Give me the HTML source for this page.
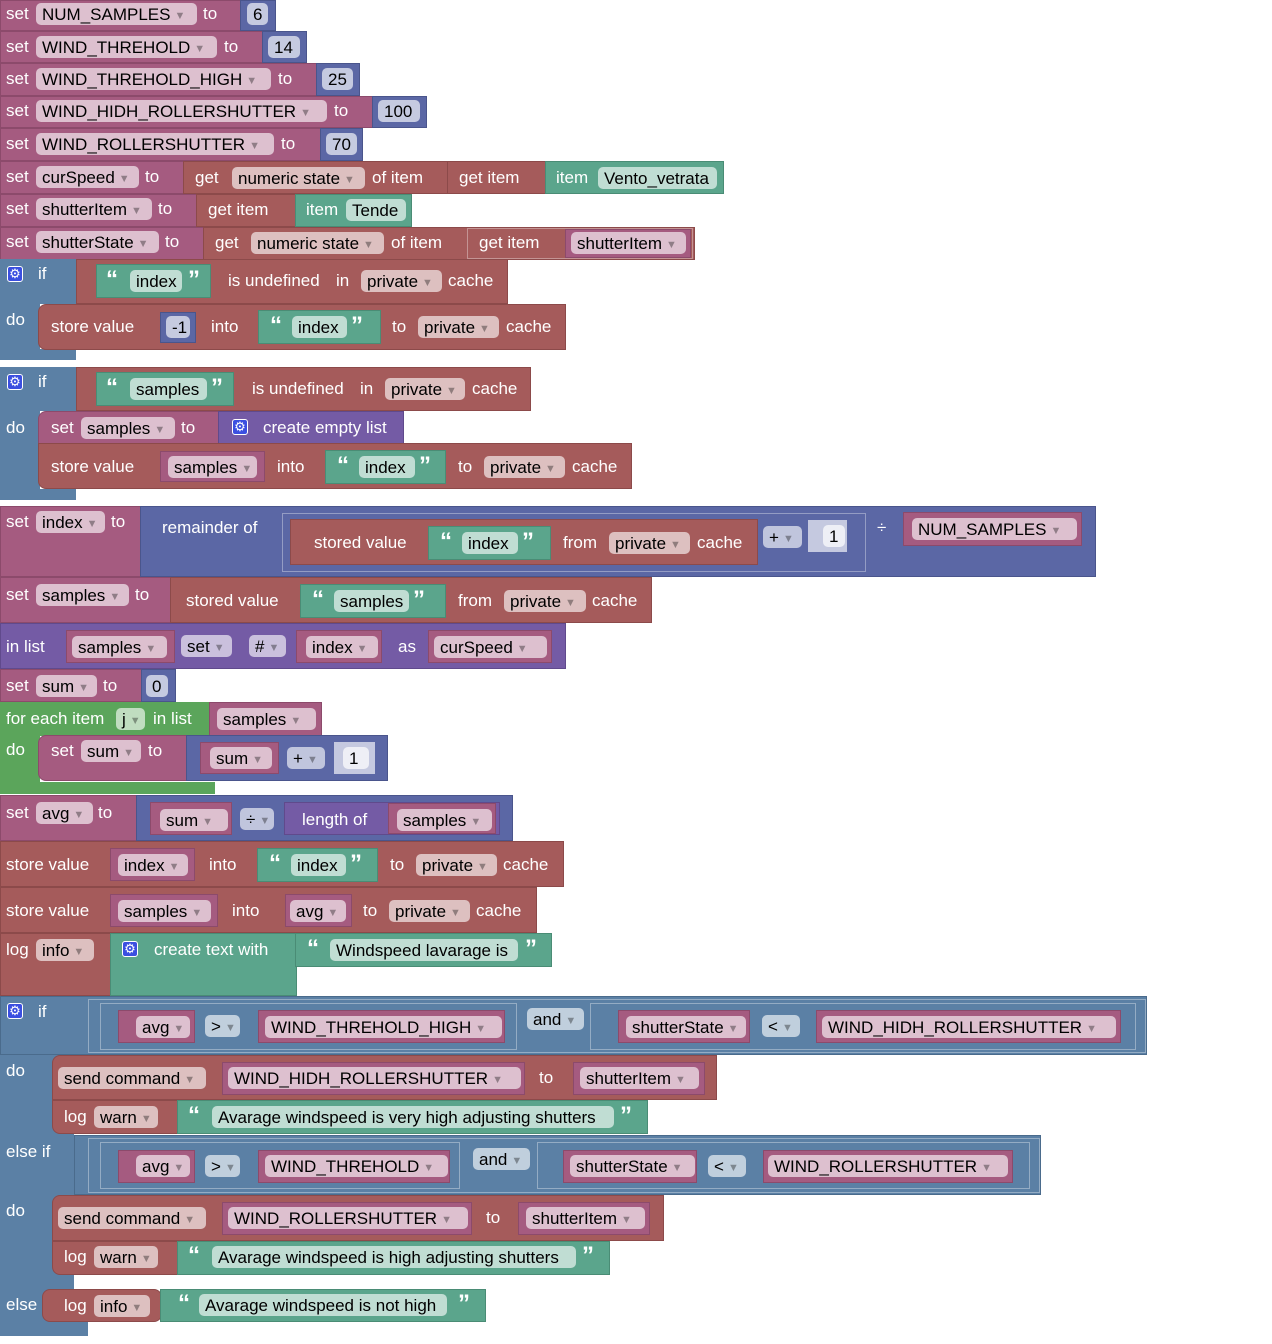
<!DOCTYPE html>
<html><head><meta charset="utf-8"><style>
body{margin:0;background:#fff;width:1272px;height:1344px;position:relative;overflow:hidden;font-family:"Liberation Sans",sans-serif}
b{position:absolute;display:block;box-sizing:border-box}
.v{background:#a55b80;border:1px solid #8c4a6b}
.m{background:#5b67a5;border:1px solid #4a558c}
.o{background:#a55b5b;border:1px solid #8c4a4a}
.g{background:#5ba58c;border:1px solid #4a8c75}
.l{background:#5b80a5;border:1px solid #4a6b8c}
.li{background:#745ba5;border:1px solid #604a8c}
.lp{background:#5ba55b;border:1px solid #4a8c4a}
.nb{background:#c5c9e0}
.in{border:1px solid rgba(255,255,255,.35)}
s{position:absolute;text-decoration:none;color:#fff;font-size:17px;line-height:20px;white-space:nowrap}
i{position:absolute;font-style:normal;background:rgba(255,255,255,.62);border-radius:5px;color:#000;font-size:17px;height:22px;line-height:23px;padding-left:6px;box-sizing:border-box;white-space:nowrap}
i.n{background:rgba(255,255,255,.65)}
i u{text-decoration:none;color:rgba(0,0,0,.35);font-size:11px;margin-left:4px;vertical-align:1px}
q{position:absolute;color:#fff;font-size:24px;font-weight:bold;line-height:24px;margin-top:2px;quotes:none}
q:before,q:after{content:none}
em{position:absolute;width:16px;height:16px;background:#3b4fe0;border:1px solid #fff;border-radius:3px;box-sizing:border-box;color:#fff;font-style:normal;font-size:13px;line-height:14px;text-align:center}
</style></head><body>

<b class="v" style="left:0;top:0;width:242px;height:31px"></b><b class="m" style="left:240px;top:0;width:36px;height:31px"></b>
<s style="left:6px;top:4px">set</s><i style="left:36px;top:3px;width:161px">NUM_SAMPLES<u>▼</u></i><s style="left:203px;top:4px">to</s><i class="n" style="left:247px;top:3px;width:21px">6</i>

<b class="v" style="left:0;top:31px;width:264px;height:32px"></b><b class="m" style="left:262px;top:31px;width:45px;height:32px"></b>
<s style="left:6px;top:37px">set</s><i style="left:36px;top:36px;width:181px">WIND_THREHOLD<u>▼</u></i><s style="left:224px;top:37px">to</s><i class="n" style="left:268px;top:36px;width:32px">14</i>

<b class="v" style="left:0;top:63px;width:318px;height:33px"></b><b class="m" style="left:316px;top:63px;width:44px;height:33px"></b>
<s style="left:6px;top:69px">set</s><i style="left:36px;top:68px;width:235px">WIND_THREHOLD_HIGH<u>▼</u></i><s style="left:278px;top:69px">to</s><i class="n" style="left:322px;top:68px;width:31px">25</i>

<b class="v" style="left:0;top:96px;width:374px;height:32px"></b><b class="m" style="left:372px;top:96px;width:55px;height:32px"></b>
<s style="left:6px;top:101px">set</s><i style="left:36px;top:100px;width:291px">WIND_HIDH_ROLLERSHUTTER<u>▼</u></i><s style="left:334px;top:101px">to</s><i class="n" style="left:378px;top:100px;width:42px">100</i>

<b class="v" style="left:0;top:128px;width:322px;height:33px"></b><b class="m" style="left:320px;top:128px;width:43px;height:33px"></b>
<s style="left:6px;top:134px">set</s><i style="left:36px;top:133px;width:238px">WIND_ROLLERSHUTTER<u>▼</u></i><s style="left:281px;top:134px">to</s><i class="n" style="left:326px;top:133px;width:31px">70</i>

<b class="v" style="left:0;top:161px;width:185px;height:33px"></b>
<b class="o" style="left:183px;top:161px;width:266px;height:33px"></b>
<b class="o" style="left:447px;top:161px;width:100px;height:33px"></b>
<b class="g" style="left:545px;top:161px;width:179px;height:33px"></b>
<s style="left:6px;top:167px">set</s><i style="left:36px;top:166px;width:103px">curSpeed<u>▼</u></i><s style="left:145px;top:167px">to</s>
<s style="left:195px;top:168px">get</s><i style="left:232px;top:167px;width:133px">numeric state<u>▼</u></i><s style="left:372px;top:168px">of item</s>
<s style="left:459px;top:168px">get item</s><s style="left:556px;top:168px">item</s><i style="left:598px;top:167px;width:119px">Vento_vetrata</i>

<b class="v" style="left:0;top:194px;width:198px;height:33px"></b>
<b class="o" style="left:196px;top:194px;width:101px;height:33px"></b>
<b class="g" style="left:295px;top:194px;width:117px;height:33px"></b>
<s style="left:6px;top:199px">set</s><i style="left:36px;top:198px;width:116px">shutterItem<u>▼</u></i><s style="left:158px;top:199px">to</s>
<s style="left:208px;top:200px">get item</s><s style="left:306px;top:200px">item</s><i style="left:346px;top:199px;width:60px">Tende</i>

<b class="v" style="left:0;top:227px;width:205px;height:33px"></b>
<b class="o" style="left:203px;top:227px;width:492px;height:33px"></b>
<b class="o in" style="left:467px;top:228px;width:226px;height:31px"></b>
<b class="v" style="left:565px;top:229px;width:126px;height:29px"></b>
<s style="left:6px;top:232px">set</s><i style="left:36px;top:231px;width:123px">shutterState<u>▼</u></i><s style="left:165px;top:232px">to</s>
<s style="left:215px;top:233px">get</s><i style="left:251px;top:232px;width:133px">numeric state<u>▼</u></i><s style="left:391px;top:233px">of item</s>
<s style="left:479px;top:233px">get item</s><i style="left:571px;top:232px;width:115px">shutterItem<u>▼</u></i>

<b class="l" style="left:0;top:259px;width:40px;height:101px;border:none"></b>
<b class="l" style="left:0;top:259px;width:78px;height:45px;border:none"></b>
<b class="l" style="left:0;top:349px;width:76px;height:11px;border:none"></b>
<b class="o" style="left:76px;top:259px;width:432px;height:45px"></b>
<b class="g" style="left:96px;top:264px;width:115px;height:34px"></b>
<em style="left:7px;top:266px">⚙</em><s style="left:38px;top:264px">if</s>
<q style="left:106px;top:266px">“</q><i style="left:130px;top:270px;width:52px">index</i><q style="left:188px;top:266px">”</q>
<s style="left:228px;top:271px">is undefined</s><s style="left:336px;top:271px">in</s><i style="left:361px;top:270px;width:81px">private<u>▼</u></i><s style="left:448px;top:271px">cache</s>
<s style="left:6px;top:310px">do</s>
<b class="o" style="left:38px;top:304px;width:528px;height:46px;border-radius:8px 0 0 8px"></b>
<b class="m" style="left:160px;top:312px;width:36px;height:31px"></b>
<b class="g" style="left:258px;top:310px;width:123px;height:34px"></b>
<s style="left:51px;top:317px">store value</s><i class="n" style="left:166px;top:316px;width:24px">-1</i><s style="left:211px;top:317px">into</s>
<q style="left:270px;top:312px">“</q><i style="left:292px;top:316px;width:55px">index</i><q style="left:351px;top:312px">”</q>
<s style="left:392px;top:317px">to</s><i style="left:418px;top:316px;width:81px">private<u>▼</u></i><s style="left:506px;top:317px">cache</s>

<b class="l" style="left:0;top:367px;width:40px;height:133px;border:none"></b>
<b class="l" style="left:0;top:367px;width:78px;height:44px;border:none"></b>
<b class="l" style="left:0;top:489px;width:76px;height:11px;border:none"></b>
<b class="o" style="left:76px;top:367px;width:455px;height:44px"></b>
<b class="g" style="left:96px;top:372px;width:138px;height:34px"></b>
<em style="left:7px;top:374px">⚙</em><s style="left:38px;top:372px">if</s>
<q style="left:106px;top:374px">“</q><i style="left:130px;top:378px;width:77px">samples</i><q style="left:211px;top:374px">”</q>
<s style="left:252px;top:379px">is undefined</s><s style="left:360px;top:379px">in</s><i style="left:385px;top:378px;width:80px">private<u>▼</u></i><s style="left:472px;top:379px">cache</s>
<s style="left:6px;top:418px">do</s>
<b class="v" style="left:38px;top:411px;width:182px;height:33px;border-radius:8px 0 0 0"></b>
<b class="li" style="left:218px;top:411px;width:186px;height:33px"></b>
<s style="left:51px;top:418px">set</s><i style="left:81px;top:417px;width:94px">samples<u>▼</u></i><s style="left:181px;top:418px">to</s>
<em style="left:232px;top:419px">⚙</em><s style="left:263px;top:418px">create empty list</s>
<b class="o" style="left:38px;top:443px;width:594px;height:46px;border-radius:0 0 0 8px"></b>
<b class="v" style="left:160px;top:451px;width:105px;height:31px"></b>
<b class="g" style="left:325px;top:450px;width:121px;height:34px"></b>
<s style="left:51px;top:457px">store value</s><i style="left:168px;top:456px;width:89px">samples<u>▼</u></i><s style="left:277px;top:457px">into</s>
<q style="left:337px;top:452px">“</q><i style="left:359px;top:456px;width:56px">index</i><q style="left:419px;top:452px">”</q>
<s style="left:458px;top:457px">to</s><i style="left:484px;top:456px;width:81px">private<u>▼</u></i><s style="left:572px;top:457px">cache</s>

<b class="v" style="left:0;top:506px;width:142px;height:71px"></b>
<b class="m" style="left:140px;top:506px;width:956px;height:71px"></b>
<b class="m in" style="left:282px;top:513px;width:584px;height:59px"></b>
<b class="o" style="left:290px;top:519px;width:468px;height:46px"></b>
<b class="g" style="left:428px;top:526px;width:123px;height:34px"></b>
<b class="nb" style="left:808px;top:520px;width:39px;height:32px"></b>
<b class="v" style="left:903px;top:512px;width:179px;height:34px"></b>
<s style="left:6px;top:512px">set</s><i style="left:36px;top:511px;width:69px">index<u>▼</u></i><s style="left:111px;top:512px">to</s>
<s style="left:162px;top:518px">remainder of</s>
<s style="left:314px;top:533px">stored value</s><q style="left:440px;top:528px">“</q><i style="left:462px;top:532px;width:56px">index</i><q style="left:522px;top:528px">”</q>
<s style="left:563px;top:533px">from</s><i style="left:609px;top:532px;width:81px">private<u>▼</u></i><s style="left:697px;top:533px">cache</s>
<i style="left:763px;top:526px;width:39px">+<u>▼</u></i><i class="n" style="left:823px;top:525px;width:22px;background:rgba(255,255,255,.7)">1</i>
<s style="left:877px;top:518px">÷</s><i style="left:912px;top:518px;width:165px">NUM_SAMPLES<u>▼</u></i>

<b class="v" style="left:0;top:577px;width:172px;height:46px"></b>
<b class="o" style="left:170px;top:577px;width:482px;height:46px"></b>
<b class="g" style="left:300px;top:584px;width:146px;height:34px"></b>
<s style="left:6px;top:585px">set</s><i style="left:36px;top:584px;width:93px">samples<u>▼</u></i><s style="left:135px;top:585px">to</s>
<s style="left:186px;top:591px">stored value</s><q style="left:312px;top:586px">“</q><i style="left:334px;top:590px;width:75px">samples</i><q style="left:413px;top:586px">”</q>
<s style="left:458px;top:591px">from</s><i style="left:504px;top:590px;width:82px">private<u>▼</u></i><s style="left:592px;top:591px">cache</s>

<b class="li" style="left:0;top:623px;width:566px;height:46px"></b>
<b class="v" style="left:66px;top:630px;width:109px;height:33px"></b>
<b class="v" style="left:296px;top:630px;width:86px;height:33px"></b>
<b class="v" style="left:428px;top:630px;width:124px;height:33px"></b>
<s style="left:6px;top:637px">in list</s><i style="left:72px;top:636px;width:95px">samples<u>▼</u></i>
<i style="left:181px;top:635px;width:51px">set<u>▼</u></i><i style="left:249px;top:635px;width:37px">#<u>▼</u></i>
<i style="left:306px;top:636px;width:72px">index<u>▼</u></i><s style="left:398px;top:637px">as</s><i style="left:434px;top:636px;width:113px">curSpeed<u>▼</u></i>

<b class="v" style="left:0;top:669px;width:143px;height:33px"></b><b class="m" style="left:141px;top:669px;width:35px;height:33px"></b>
<s style="left:6px;top:676px">set</s><i style="left:36px;top:675px;width:61px">sum<u>▼</u></i><s style="left:103px;top:676px">to</s><i class="n" style="left:146px;top:675px;width:22px">0</i>

<b class="lp" style="left:0;top:702px;width:40px;height:92px;border:none"></b>
<b class="lp" style="left:0;top:702px;width:211px;height:34px;border:none"></b>
<b class="lp" style="left:0;top:782px;width:215px;height:12px;border:none"></b>
<b class="v" style="left:209px;top:702px;width:113px;height:34px"></b>
<s style="left:6px;top:709px">for each item</s><i style="left:116px;top:708px;width:29px">j<u>▼</u></i><s style="left:153px;top:709px">in list</s>
<i style="left:217px;top:708px;width:99px">samples<u>▼</u></i>
<s style="left:6px;top:740px">do</s>
<b class="v" style="left:38px;top:735px;width:150px;height:46px;border-radius:8px 0 0 8px"></b>
<b class="m" style="left:186px;top:735px;width:202px;height:46px"></b>
<b class="v" style="left:200px;top:742px;width:79px;height:32px"></b>
<b class="nb" style="left:334px;top:742px;width:41px;height:32px"></b>
<s style="left:51px;top:741px">set</s><i style="left:81px;top:740px;width:60px">sum<u>▼</u></i><s style="left:148px;top:741px">to</s>
<i style="left:210px;top:747px;width:62px">sum<u>▼</u></i><i style="left:287px;top:747px;width:38px">+<u>▼</u></i><i class="n" style="left:343px;top:747px;width:26px;background:rgba(255,255,255,.7)">1</i>

<b class="v" style="left:0;top:795px;width:138px;height:46px"></b>
<b class="m" style="left:136px;top:795px;width:377px;height:46px"></b>
<b class="v" style="left:150px;top:802px;width:82px;height:33px"></b>
<b class="li" style="left:284px;top:802px;width:216px;height:33px"></b>
<b class="v" style="left:388px;top:803px;width:108px;height:31px"></b>
<s style="left:6px;top:803px">set</s><i style="left:36px;top:802px;width:57px">avg<u>▼</u></i><s style="left:98px;top:803px">to</s>
<i style="left:160px;top:809px;width:68px">sum<u>▼</u></i><i style="left:240px;top:808px;width:34px">÷<u>▼</u></i><s style="left:302px;top:810px">length of</s>
<i style="left:397px;top:809px;width:95px">samples<u>▼</u></i>

<b class="o" style="left:0;top:841px;width:564px;height:46px"></b>
<b class="v" style="left:110px;top:848px;width:85px;height:33px"></b>
<b class="g" style="left:257px;top:848px;width:121px;height:34px"></b>
<s style="left:6px;top:855px">store value</s><i style="left:118px;top:854px;width:70px">index<u>▼</u></i><s style="left:209px;top:855px">into</s>
<q style="left:269px;top:850px">“</q><i style="left:291px;top:854px;width:55px">index</i><q style="left:350px;top:850px">”</q>
<s style="left:390px;top:855px">to</s><i style="left:416px;top:854px;width:81px">private<u>▼</u></i><s style="left:503px;top:855px">cache</s>

<b class="o" style="left:0;top:887px;width:537px;height:46px"></b>
<b class="v" style="left:110px;top:894px;width:108px;height:33px"></b>
<b class="v" style="left:285px;top:894px;width:67px;height:33px"></b>
<s style="left:6px;top:901px">store value</s><i style="left:118px;top:900px;width:93px">samples<u>▼</u></i><s style="left:232px;top:901px">into</s>
<i style="left:290px;top:900px;width:56px">avg<u>▼</u></i><s style="left:363px;top:901px">to</s><i style="left:389px;top:900px;width:81px">private<u>▼</u></i><s style="left:476px;top:901px">cache</s>

<b class="o" style="left:0;top:933px;width:112px;height:63px"></b>
<b class="g" style="left:110px;top:933px;width:187px;height:63px"></b>
<b class="g" style="left:295px;top:933px;width:257px;height:34px"></b>
<s style="left:6px;top:940px">log</s><i style="left:36px;top:939px;width:58px">info<u>▼</u></i>
<em style="left:122px;top:941px">⚙</em><s style="left:154px;top:940px">create text with</s>
<q style="left:307px;top:935px">“</q><i style="left:330px;top:939px;width:188px">Windspeed lavarage is</i><q style="left:525px;top:935px">”</q>

<b class="l" style="left:0;top:996px;width:74px;height:340px;border:none"></b>
<b class="l" style="left:0;top:1318px;width:88px;height:18px;border:none"></b>
<b class="l" style="left:0;top:996px;width:1147px;height:59px"></b>
<b class="l in" style="left:88px;top:999px;width:1058px;height:54px"></b>
<b class="l in" style="left:100px;top:1003px;width:417px;height:47px"></b>
<b class="v" style="left:118px;top:1010px;width:77px;height:33px"></b>
<b class="v" style="left:258px;top:1010px;width:247px;height:33px"></b>
<b class="l in" style="left:590px;top:1003px;width:546px;height:47px"></b>
<b class="v" style="left:618px;top:1010px;width:132px;height:33px"></b>
<b class="v" style="left:816px;top:1010px;width:305px;height:33px"></b>
<em style="left:7px;top:1003px">⚙</em><s style="left:38px;top:1002px">if</s>
<i style="left:136px;top:1016px;width:54px">avg<u>▼</u></i><i style="left:205px;top:1015px;width:35px">&gt;<u>▼</u></i>
<i style="left:265px;top:1016px;width:237px">WIND_THREHOLD_HIGH<u>▼</u></i>
<i style="left:527px;top:1008px;width:57px">and<u>▼</u></i>
<i style="left:626px;top:1016px;width:120px">shutterState<u>▼</u></i><i style="left:762px;top:1015px;width:38px">&lt;<u>▼</u></i>
<i style="left:822px;top:1016px;width:294px">WIND_HIDH_ROLLERSHUTTER<u>▼</u></i>

<s style="left:6px;top:1061px">do</s>
<b class="o" style="left:52px;top:1055px;width:665px;height:45px;border-radius:8px 0 0 0"></b>
<b class="v" style="left:222px;top:1062px;width:303px;height:33px"></b>
<b class="v" style="left:573px;top:1062px;width:132px;height:33px"></b>
<i style="left:58px;top:1067px;width:148px">send command<u>▼</u></i><i style="left:228px;top:1067px;width:293px">WIND_HIDH_ROLLERSHUTTER<u>▼</u></i>
<s style="left:539px;top:1068px">to</s><i style="left:580px;top:1067px;width:119px">shutterItem<u>▼</u></i>
<b class="o" style="left:52px;top:1100px;width:127px;height:34px;border-radius:0 0 0 8px"></b>
<b class="g" style="left:177px;top:1100px;width:471px;height:34px"></b>
<s style="left:64px;top:1107px">log</s><i style="left:94px;top:1106px;width:64px">warn<u>▼</u></i>
<q style="left:188px;top:1102px">“</q><i style="left:212px;top:1106px;width:402px">Avarage windspeed is very high adjusting shutters</i><q style="left:620px;top:1102px">”</q>

<s style="left:6px;top:1142px">else if</s>
<b class="l" style="left:74px;top:1135px;width:967px;height:60px"></b>
<b class="l in" style="left:88px;top:1138px;width:952px;height:55px"></b>
<b class="l in" style="left:100px;top:1142px;width:360px;height:47px"></b>
<b class="v" style="left:118px;top:1150px;width:77px;height:33px"></b>
<b class="v" style="left:258px;top:1150px;width:192px;height:33px"></b>
<b class="l in" style="left:537px;top:1142px;width:493px;height:47px"></b>
<b class="v" style="left:563px;top:1150px;width:134px;height:33px"></b>
<b class="v" style="left:763px;top:1150px;width:250px;height:33px"></b>
<i style="left:136px;top:1155px;width:54px">avg<u>▼</u></i><i style="left:205px;top:1155px;width:35px">&gt;<u>▼</u></i>
<i style="left:265px;top:1155px;width:183px">WIND_THREHOLD<u>▼</u></i>
<i style="left:473px;top:1148px;width:57px">and<u>▼</u></i>
<i style="left:570px;top:1155px;width:125px">shutterState<u>▼</u></i><i style="left:708px;top:1155px;width:38px">&lt;<u>▼</u></i>
<i style="left:768px;top:1155px;width:240px">WIND_ROLLERSHUTTER<u>▼</u></i>

<s style="left:6px;top:1201px">do</s>
<b class="o" style="left:52px;top:1195px;width:612px;height:46px;border-radius:8px 0 0 0"></b>
<b class="v" style="left:222px;top:1202px;width:250px;height:33px"></b>
<b class="v" style="left:518px;top:1202px;width:132px;height:33px"></b>
<i style="left:58px;top:1207px;width:148px">send command<u>▼</u></i><i style="left:228px;top:1207px;width:240px">WIND_ROLLERSHUTTER<u>▼</u></i>
<s style="left:486px;top:1208px">to</s><i style="left:526px;top:1207px;width:119px">shutterItem<u>▼</u></i>
<b class="o" style="left:52px;top:1241px;width:127px;height:34px;border-radius:0 0 0 8px"></b>
<b class="g" style="left:177px;top:1241px;width:433px;height:34px"></b>
<s style="left:64px;top:1247px">log</s><i style="left:94px;top:1246px;width:64px">warn<u>▼</u></i>
<q style="left:188px;top:1242px">“</q><i style="left:212px;top:1246px;width:364px">Avarage windspeed is high adjusting shutters</i><q style="left:582px;top:1242px">”</q>

<s style="left:6px;top:1295px">else</s>
<b class="o" style="left:42px;top:1289px;width:120px;height:33px;border-radius:8px"></b>
<b class="g" style="left:160px;top:1289px;width:326px;height:33px"></b>
<s style="left:64px;top:1296px">log</s><i style="left:94px;top:1295px;width:56px">info<u>▼</u></i>
<q style="left:178px;top:1290px">“</q><i style="left:199px;top:1294px;width:248px">Avarage windspeed is not high</i><q style="left:458px;top:1290px">”</q>

</body></html>
